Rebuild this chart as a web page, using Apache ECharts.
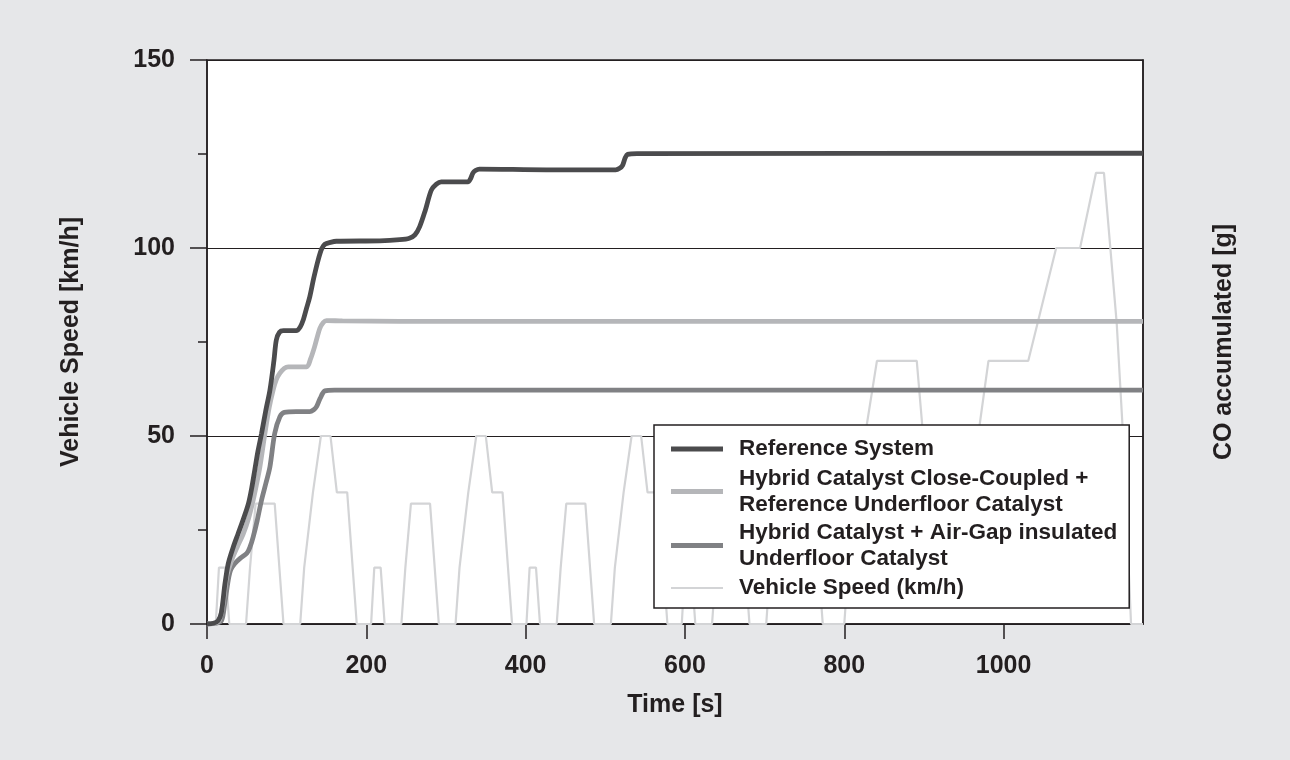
<!DOCTYPE html>
<html lang="en">
<head>
    <meta charset="UTF-8">
    <title>CO accumulated - NEDC</title>
    <style>
        html, body { margin: 0; padding: 0; background: #e6e7e9; }
        #box { width: 1290px; height: 760px; }
    </style>
</head>
<body>
    <div id="box"></div>
    <script src="https://cdn.jsdelivr.net/npm/echarts@6/dist/echarts.min.js"></script>
    <script>
        // series names (legend order)
        var seriesNames = [
            'Reference System',
            'Hybrid Catalyst Close-Coupled +\nReference Underfloor Catalyst',
            'Hybrid Catalyst + Air-Gap insulated\nUnderfloor Catalyst',
            'Vehicle Speed (km/h)'
        ];

        // CO accumulated curves [time s, value]
        var coReference = [
            [0, 0], [8, 0.2], [14, 0.9], [18, 3], [22.6, 10.8], [26.7, 16.1], [33, 20.5], [39, 24],
            [45, 27.5], [52, 32], [56, 36], [60, 41], [64, 46], [68.5, 50.7], [74, 57], [79, 62.2],
            [84, 70], [87, 75.5], [91, 77.6], [96, 78], [112, 78], [117, 79], [121, 81], [125, 84],
            [129, 87], [134, 92], [139.5, 96.8], [144, 99.8], [148, 101], [155, 101.5], [162.5, 101.8],
            [217, 101.9], [242, 102.2], [254, 102.6], [261, 103.5], [267, 105.7], [274, 110],
            [281.6, 115.4], [288, 117], [294, 117.6], [327.5, 117.6], [331, 118.5], [333.7, 119.9],
            [337, 120.6], [342, 121], [426, 120.8], [513, 120.8], [518, 121.2], [521.7, 122],
            [525, 124], [528, 124.9], [540, 125.1], [1175, 125.2]
        ];
        var coHybridCC = [
            [0, 0], [10, 0.2], [15.5, 1], [20, 5], [24.7, 12.6], [31, 17], [38, 20.5], [45.5, 24],
            [52, 28], [58, 33], [62, 37], [66.4, 41.8], [72.7, 50.7], [78, 57.5], [83, 62.2],
            [87, 65], [91.5, 66.7], [97, 68], [102, 68.4], [125, 68.4], [130, 70.5], [135, 73.7],
            [141.6, 78.6], [146, 80.2], [150, 80.7], [170, 80.6], [242, 80.5], [1175, 80.5]
        ];
        var coHybridAG = [
            [0, 0], [12, 0.2], [18.4, 1], [22, 5], [26.7, 11.7], [30, 14.5], [35, 16.1], [42, 17.5],
            [50, 18.8], [54, 20.5], [58, 23.2], [63, 27.5], [68.5, 33], [74, 37.5], [79, 41.8],
            [85, 50.7], [91.5, 55.1], [97, 56.3], [112, 56.5], [129, 56.5], [134, 57], [137.5, 57.8],
            [142, 60], [148, 62], [160, 62.2], [1175, 62.2]
        ];

        // vehicle speed, NEDC (4x ECE + EUDC) [time s, km/h]
        var vehicleSpeed = [
            [0, 0], [11, 0], [15, 15], [23, 15], [28, 0], [49, 0], [54, 15], [56, 15], [61, 32], [85, 32], [96, 0],
            [117, 0], [122, 15], [124, 15], [133, 35], [135, 35], [143, 50], [155, 50], [163, 35], [176, 35], [188, 0],
            [195, 0], [206, 0], [210, 15], [218, 15], [223, 0], [244, 0], [249, 15], [251, 15], [256, 32], [280, 32], [291, 0],
            [312, 0], [317, 15], [319, 15], [328, 35], [330, 35], [338, 50], [350, 50], [358, 35], [371, 35], [383, 0],
            [390, 0], [401, 0], [405, 15], [413, 15], [418, 0], [439, 0], [444, 15], [446, 15], [451, 32], [475, 32], [486, 0],
            [507, 0], [512, 15], [514, 15], [523, 35], [525, 35], [533, 50], [545, 50], [553, 35], [566, 35], [578, 0],
            [585, 0], [596, 0], [600, 15], [608, 15], [613, 0], [634, 0], [639, 15], [641, 15], [646, 32], [670, 32], [681, 0],
            [702, 0], [707, 15], [709, 15], [718, 35], [720, 35], [728, 50], [740, 50], [748, 35], [761, 35], [773, 0],
            [780, 0], [800, 0], [805, 15], [807, 15], [816, 35], [818, 35], [826, 50], [828, 50], [841, 70], [891, 70],
            [899, 50], [968, 50], [981, 70], [1031, 70], [1066, 100], [1096, 100], [1116, 120], [1126, 120],
            [1142, 80], [1150, 50], [1160, 0], [1175, 0]
        ];

        // axis ticks
        var timeMax = 1175;
        var timeStep = 200;
        var speedMax = 150;
        var speedStep = 50;

        var lineColors = ['#4b4b4d', '#b5b6b9', '#808184', '#d3d4d6'];
        var lineWidths = [4.8, 4.8, 4.8, 2.2];
        var legendIcons = ['rect', 'rect', 'rect', 'path://M0,0H52V2.2H0Z'];
        var seriesData = [coReference, coHybridCC, coHybridAG, vehicleSpeed];

        var fontFamily = '"Liberation Sans", Arial, sans-serif';
        var textColor = '#231f20';

        var myChart = echarts.init(document.getElementById('box'));

        var series = seriesData.map(function (d, i) {
            var isSpeed = i === 3;
            return {
                name: seriesNames[i],
                type: 'line',
                data: d,
                symbol: 'none',
                smooth: isSpeed ? false : 0.3,
                z: isSpeed ? 1 : 3 + (2 - i),
                lineStyle: { color: lineColors[i], width: lineWidths[i] },
                itemStyle: { color: lineColors[i] }
            };
        });

        var legendData = seriesNames.map(function (n, i) {
            var item = { name: n, icon: legendIcons[i] };
            // keep the icon on the first text line
            if (n.indexOf('\n') >= 0) item.textStyle = { padding: [0, 0, -26, 11] };
            return item;
        });

        var labelFont = { fontFamily: fontFamily, fontWeight: 'bold', fontSize: 25, color: textColor };

        var option = {
            backgroundColor: '#e6e7e9',
            textStyle: { fontFamily: fontFamily },
            grid: {
                left: 207, right: 147, top: 60, bottom: 136,
                show: true,
                backgroundColor: '#ffffff',
                borderColor: '#231f20',
                borderWidth: 1.5
            },
            legend: {
                data: legendData,
                orient: 'vertical',
                left: 654,
                top: 425,
                backgroundColor: '#ffffff',
                borderColor: '#231f20',
                borderWidth: 1.5,
                borderRadius: 0,
                padding: [11, 12, 7, 17],
                itemGap: 5,
                itemWidth: 52,
                itemHeight: 5,
                symbolKeepAspect: true,
                selectedMode: false,
                textStyle: {
                    fontFamily: fontFamily,
                    fontWeight: 'bold',
                    fontSize: 22.5,
                    lineHeight: 26,
                    color: textColor,
                    padding: [0, 0, 0, 11]
                },
                z: 10
            },
            xAxis: {
                type: 'value',
                min: 0,
                max: timeMax,
                interval: timeStep,
                name: 'Time [s]',
                nameLocation: 'middle',
                nameGap: 69,
                nameTextStyle: labelFont,
                axisLine: { show: true, lineStyle: { color: '#231f20', width: 1.5 } },
                axisTick: { show: true, length: 15, lineStyle: { color: '#231f20', width: 1.5 } },
                axisLabel: Object.assign({
                    margin: 30,
                    showMaxLabel: false,
                    formatter: function (v) { return String(v); }
                }, labelFont),
                splitLine: { show: false }
            },
            yAxis: [
                {
                    type: 'value',
                    min: 0,
                    max: speedMax,
                    interval: speedStep,
                    name: 'Vehicle Speed [km/h]',
                    nameLocation: 'middle',
                    nameRotate: 90,
                    nameGap: 123,
                    nameTextStyle: labelFont,
                    axisLine: { show: true, lineStyle: { color: '#231f20', width: 1.5 } },
                    axisTick: { show: true, length: 17, lineStyle: { color: '#231f20', width: 1.5 } },
                    minorTick: { show: true, splitNumber: 2, length: 9, lineStyle: { color: '#231f20', width: 1.5 } },
                    axisLabel: Object.assign({ margin: 32 }, labelFont),
                    splitLine: { show: true, lineStyle: { color: '#231f20', width: 1.2 } }
                },
                {
                    type: 'value',
                    min: 0,
                    max: speedMax,
                    interval: speedStep,
                    position: 'right',
                    name: 'CO accumulated [g]',
                    nameLocation: 'middle',
                    nameRotate: 90,
                    nameGap: 69,
                    nameTextStyle: labelFont,
                    axisLine: { show: true, lineStyle: { color: '#231f20', width: 1.5 } },
                    axisTick: { show: false },
                    axisLabel: { show: false },
                    splitLine: { show: false }
                }
            ],
            series: series
        };

        myChart.setOption(option);

        window.addEventListener('resize', function () {
            myChart.resize();
        });
    </script>
</body>
</html>
